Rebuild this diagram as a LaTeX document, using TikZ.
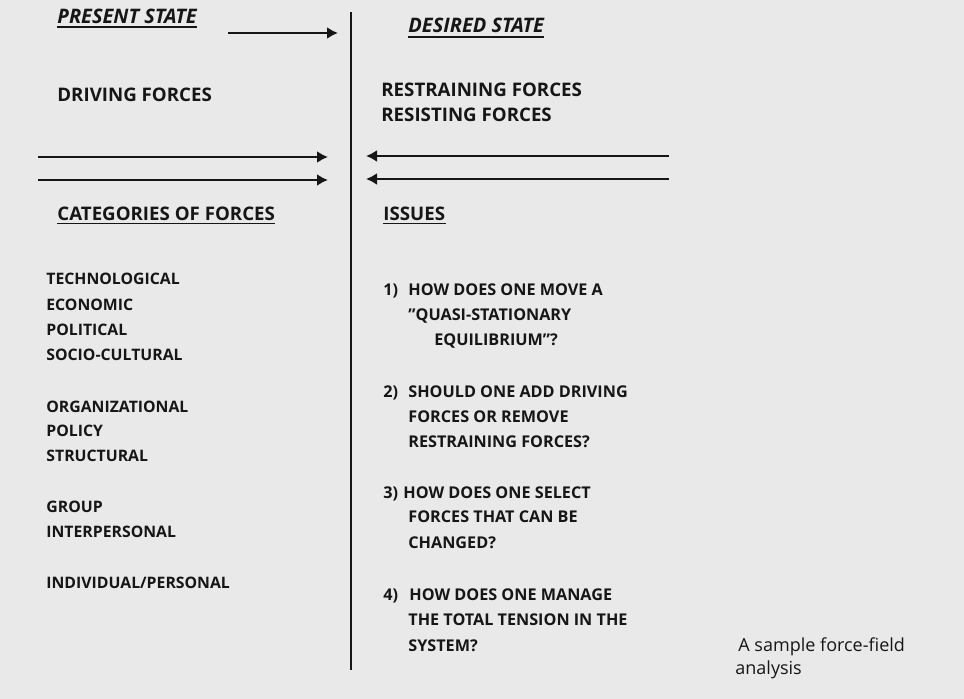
\documentclass[tikz,border=0pt]{standalone}
\usepackage{fontspec}
\setmainfont{Open Sans}
\usetikzlibrary{positioning, arrows.meta}

\definecolor{paper}{RGB}{233,233,233}
\definecolor{ink}{RGB}{22,22,22}

\begin{document}
\begin{tikzpicture}[x=0.5pt, y=-0.5pt, >={Latex[length=5.5pt,width=6pt]},
	every node/.style={inner sep=0pt, anchor=base west, text=ink},
	statehead/.style={font=\bfseries\itshape\fontsize{10}{12}\selectfont},
	head/.style={font=\bfseries\fontsize{9.35}{11}\selectfont},
	item/.style={font=\bfseries\fontsize{7.9}{10}\selectfont},
	issue/.style={font=\bfseries\fontsize{8.1}{10}\selectfont},
	caption/.style={font=\fontsize{9}{11}\selectfont},
	force/.style={->, draw=ink, line width=1.2pt},
	uline/.style={draw=ink, line width=0.8pt}]

	\fill[paper] (0,0) rectangle (964,699);
	\useasboundingbox (0,0) rectangle (964,699);

	% the field line
	\coordinate (fieldtop) at (351,12);
	\coordinate (fieldbot) at (351,670);
	\draw[draw=ink, line width=1.4pt] (fieldtop) -- (fieldbot);

	% headings
	\node[statehead] (present) at (57,24) {PRESENT STATE};
	\node[statehead] (desired) at (408,33) {DESIRED STATE};
	\node[head] (driving) at (57,102) {DRIVING FORCES};
	\node[head] (restraining) at (381,97) {RESTRAINING FORCES};
	\node[head] (resisting) at (381,122) {RESISTING FORCES};
	\node[head] (categories) at (57,221) {CATEGORIES OF FORCES};
	\node[head] (issues) at (383,221) {ISSUES};

	\draw[uline] ([yshift=-1.5pt]present.base west) -- ([yshift=-1.5pt]present.base east);
	\draw[uline] ([yshift=-2pt]desired.base west) -- ([yshift=-2pt]desired.base east);
	\draw[uline] ([yshift=-1.3pt]categories.base west) -- ([yshift=-1.3pt]categories.base east);
	\draw[uline] ([yshift=-1.3pt]issues.base west) -- ([yshift=-1.3pt]issues.base east);

	% forces
	\coordinate (moveL) at (228,33);
	\coordinate (moveR) at (338,33);
	\coordinate (driveL1) at (38,157);
	\coordinate (driveR1) at (328,157);
	\coordinate (driveL2) at (38,180);
	\coordinate (driveR2) at (328,180);
	\coordinate (holdR1) at (669,156);
	\coordinate (holdL1) at (366,156);
	\coordinate (holdR2) at (669,179);
	\coordinate (holdL2) at (366,179);

	\draw[force] (moveL) -- (moveR);
	\draw[force] (driveL1) -- (driveR1);
	\draw[force] (driveL2) -- (driveR2);
	\draw[force] (holdR1) -- (holdL1);
	\draw[force] (holdR2) -- (holdL2);

	% categories of forces
	\node[item] (tech) at (46,284.5) {TECHNOLOGICAL};
	\node[item] (econ) at (46,310.5) {ECONOMIC};
	\node[item] (poli) at (46,335.5) {POLITICAL};
	\node[item] (socio) at (46,360.5) {SOCIO-CULTURAL};
	\node[item] (org) at (46,412.5) {ORGANIZATIONAL};
	\node[item] (policy) at (46,436.5) {POLICY};
	\node[item] (struct) at (46,461.5) {STRUCTURAL};
	\node[item] (group) at (46,512.5) {GROUP};
	\node[item] (inter) at (46,537.5) {INTERPERSONAL};
	\node[item] (indiv) at (46,588.5) {INDIVIDUAL/PERSONAL};

	% issues
	\node[issue] (n1) at (383,296) {1)};
	\node[issue] (q1a) at (408,296) {HOW DOES ONE MOVE A};
	\node[issue] (q1b) at (408,320.5) {”QUASI-STATIONARY};
	\node[issue] (q1c) at (434,345.5) {EQUILIBRIUM”?};

	\node[issue] (n2) at (383,397.5) {2)};
	\node[issue] (q2a) at (408,397.5) {SHOULD ONE ADD DRIVING};
	\node[issue] (q2b) at (408,422.5) {FORCES OR REMOVE};
	\node[issue] (q2c) at (408,447.5) {RESTRAINING FORCES?};

	\node[issue] (n3) at (383,498.5) {3)};
	\node[issue] (q3a) at (403,498.5) {HOW DOES ONE SELECT};
	\node[issue] (q3b) at (408,522.5) {FORCES THAT CAN BE};
	\node[issue] (q3c) at (408,548.5) {CHANGED?};

	\node[issue] (n4) at (383,600.5) {4)};
	\node[issue] (q4a) at (409,600.5) {HOW DOES ONE MANAGE};
	\node[issue] (q4b) at (408,625.5) {THE TOTAL TENSION IN THE};
	\node[issue] (q4c) at (408,651.5) {SYSTEM?};

	% caption
	\node[caption] (cap1) at (738,652) {A sample force-field};
	\node[caption] (cap2) at (735,675) {analysis};

\end{tikzpicture}
\end{document}
